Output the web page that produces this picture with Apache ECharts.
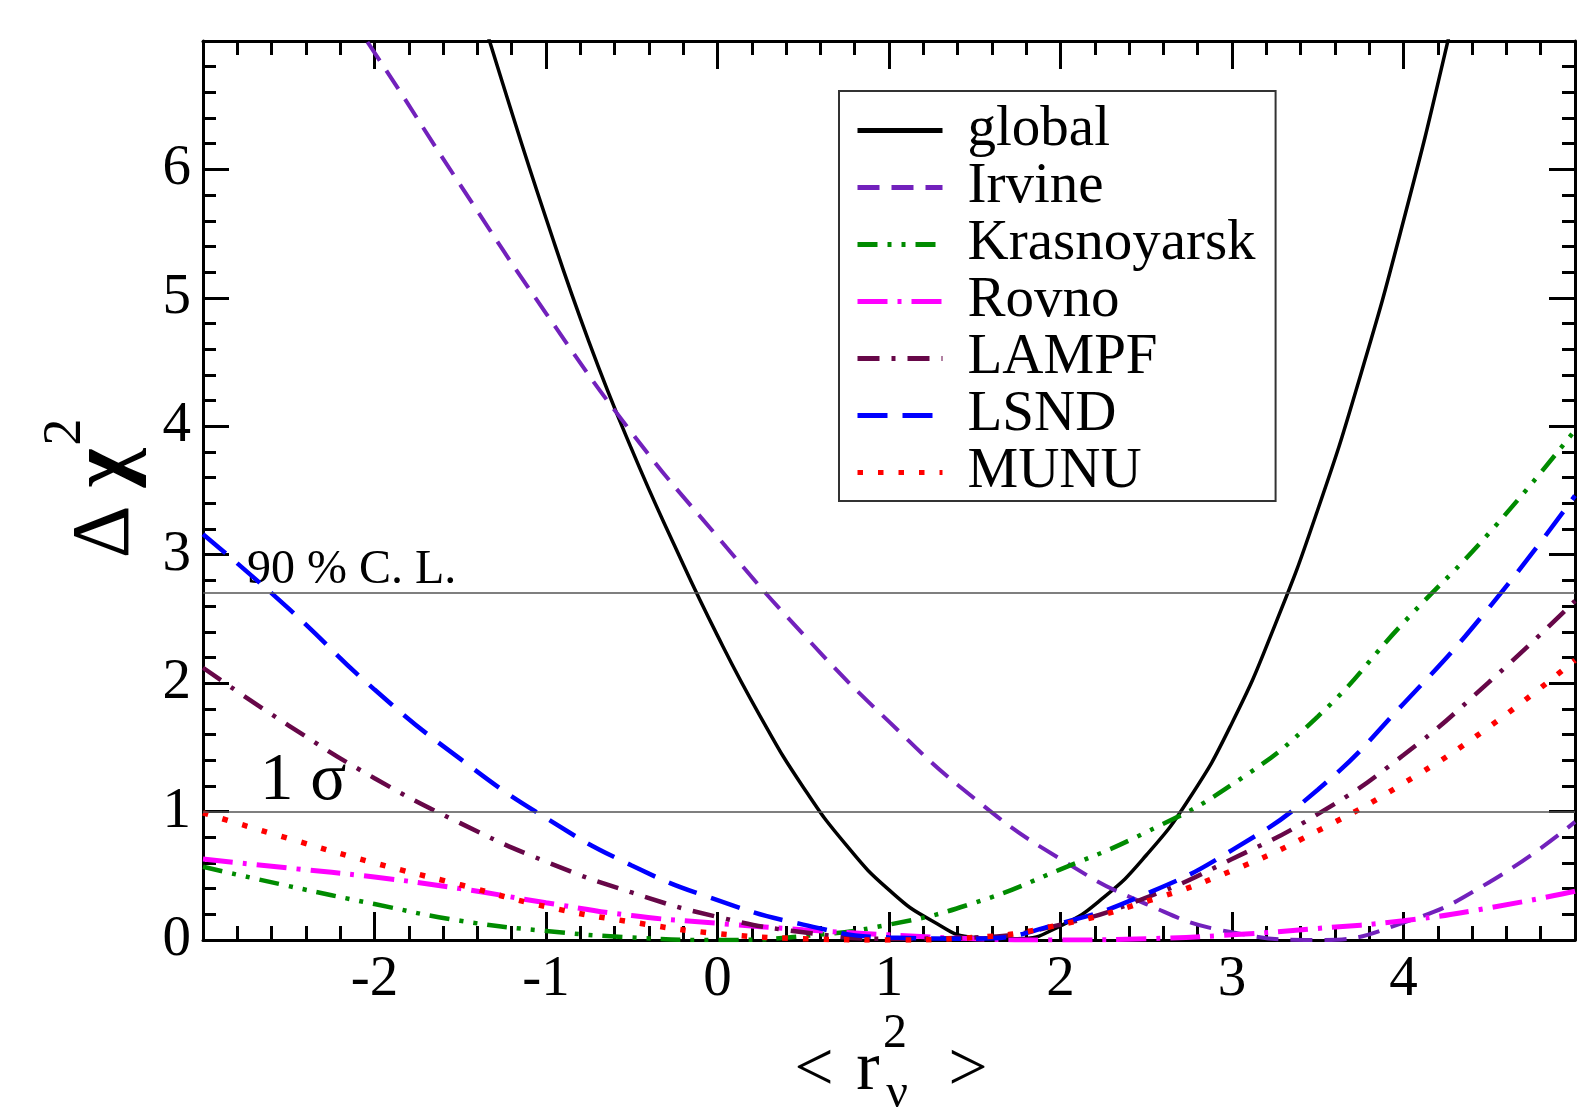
<!DOCTYPE html>
<html>
<head>
<meta charset="utf-8">
<script src="https://cdn.jsdelivr.net/npm/echarts@6/dist/echarts.min.js"></script>
<style>
  body { margin: 0; background: #fff; }
  #chart { width: 1578px; height: 1116px; }
</style>
</head>
<body>
<div id="chart"></div>
<script>
// x samples (<r^2>)
var xHalf = [-3, -2.5, -2, -1.5, -1, -0.5, 0, 0.5, 1, 1.5, 2, 2.5, 3, 3.5, 4, 4.5, 5];
var xQuarter = [-1.5, -1.25, -1, -0.75, -0.5, -0.25, 0, 0.25, 0.5, 0.75, 1, 1.25, 1.5,
  1.75, 2, 2.25, 2.5, 2.75, 3, 3.25, 3.5, 3.75, 4, 4.25, 4.5];

// delta chi^2
var globalChi = [7.75, 6.66, 5.62, 4.66, 3.82, 3.07, 2.37, 1.74, 1.19, 0.74, 0.39, 0.15, 0.02,
  0.01, 0.11, 0.33, 0.66, 1.10, 1.69, 2.45, 3.35, 4.40, 5.60, 6.95, 8.45];
var irvine = [9.0, 7.9, 6.91, 5.88, 4.88, 3.95, 3.14, 2.38, 1.70, 1.10, 0.63, 0.28, 0.06, 0.0, 0.135, 0.45, 0.92];
var krasnoyarsk = [0.57, 0.42, 0.28, 0.15, 0.07, 0.02, 0.0, 0.03, 0.12, 0.29, 0.55, 0.84, 1.21, 1.74, 2.47, 3.17, 3.97];
var rovno = [0.63, 0.56, 0.49, 0.40, 0.29, 0.19, 0.13, 0.08, 0.04, 0.01, 0.0, 0.01, 0.04, 0.09, 0.15, 0.25, 0.38];
var lampf = [2.12, 1.67, 1.26, 0.91, 0.61, 0.37, 0.18, 0.06, 0.01, 0.02, 0.12, 0.33, 0.63, 0.98, 1.44, 2.01, 2.64];
var lsnd = [3.16, 2.58, 1.95, 1.41, 0.95, 0.58, 0.31, 0.12, 0.02, 0.01, 0.13, 0.36, 0.70, 1.17, 1.84, 2.59, 3.46];
var munu = [0.99, 0.79, 0.60, 0.43, 0.26, 0.14, 0.05, 0.01, 0.0, 0.02, 0.12, 0.30, 0.54, 0.85, 1.22, 1.66, 2.18];

var refLevels = [1, 2.7];
var xTicks = [-2, -1, 0, 1, 2, 3, 4];
var yTicks = [0, 1, 2, 3, 4, 5, 6];

var serif = '"Liberation Serif", "DejaVu Serif", serif';

function pairs(xs, ys) {
  return xs.map(function (x, i) { return [x, ys[i]]; });
}

function curve(name, xs, ys, color, width, dash) {
  return {
    name: name,
    type: 'line',
    data: pairs(xs, ys),
    symbol: 'none',
    showSymbol: false,
    smooth: 0.5,
    clip: true,
    lineStyle: { color: color, width: width, type: dash },
    itemStyle: { color: color }
  };
}

function label(txt, x, y, size, extra) {
  var st = { text: txt, fontFamily: serif, fontSize: size, fill: '#000', align: 'center', verticalAlign: 'middle' };
  if (extra) Object.assign(st, extra);
  return { type: 'text', x: x, y: y, style: st, silent: true };
}

var chart = echarts.init(document.getElementById('chart'));

var axisCommon = {
  type: 'value',
  axisLine: { show: true, onZero: false, lineStyle: { color: '#000', width: 3 } },
  splitLine: { show: false },
  minorSplitLine: { show: false }
};

var series = [
  curve('global', xQuarter, globalChi, '#000000', 3.5, 'solid'),
  curve('Irvine', xHalf, irvine, '#7221bc', 4, [22, 12]),
  curve('Krasnoyarsk', xHalf, krasnoyarsk, '#008b00', 4.5, [20, 10, 4, 10, 4, 10]),
  curve('Rovno', xHalf, rovno, '#ff00ff', 5, [30, 10, 4, 10]),
  curve('LAMPF', xHalf, lampf, '#670748', 4.5, [22, 12, 4, 12]),
  curve('LSND', xHalf, lsnd, '#0000ff', 4.5, [30, 15]),
  curve('MUNU', xHalf, munu, '#ff0000', 5.5, [5.5, 15])
];

series[0].markLine = {
  silent: true,
  symbol: 'none',
  label: { show: false },
  lineStyle: { color: '#555', width: 1.5, type: 'solid' },
  data: refLevels.map(function (v) { return { yAxis: v }; })
};

var option = {
  animation: false,
  backgroundColor: '#fff',
  grid: { left: 203, top: 41, right: 1, bottom: 176 },
  xAxis: [
    Object.assign({}, axisCommon, {
      position: 'bottom', min: -3, max: 5, interval: 1,
      axisTick: { show: true, inside: true, length: 28, lineStyle: { color: '#000', width: 3 } },
      minorTick: { show: true, splitNumber: 5, length: 14, lineStyle: { color: '#000', width: 3 } },
      axisLabel: {
        margin: 12, fontFamily: serif, fontSize: 57, color: '#000',
        formatter: function (v) { return xTicks.indexOf(v) >= 0 ? String(v) : ''; }
      }
    }),
    Object.assign({}, axisCommon, {
      position: 'top', min: -3, max: 5, interval: 1,
      axisTick: { show: true, inside: true, length: 28, lineStyle: { color: '#000', width: 3 } },
      minorTick: { show: true, splitNumber: 5, length: 14, lineStyle: { color: '#000', width: 3 } },
      axisLabel: { show: false }
    })
  ],
  yAxis: [
    Object.assign({}, axisCommon, {
      position: 'left', min: 0, max: 7, interval: 1,
      axisTick: { show: true, inside: true, length: 26, lineStyle: { color: '#000', width: 3 } },
      minorTick: { show: true, splitNumber: 5, length: 13, lineStyle: { color: '#000', width: 3 } },
      axisLabel: {
        margin: 12, fontFamily: serif, fontSize: 57, color: '#000',
        formatter: function (v) { return yTicks.indexOf(v) >= 0 ? String(v) : ''; }
      }
    }),
    Object.assign({}, axisCommon, {
      position: 'right', min: 0, max: 7, interval: 1,
      axisTick: { show: true, inside: true, length: 26, lineStyle: { color: '#000', width: 3 } },
      minorTick: { show: true, splitNumber: 5, length: 13, lineStyle: { color: '#000', width: 3 } },
      axisLabel: { show: false }
    })
  ],
  legend: {
    left: 839,
    top: 91,
    orient: 'vertical',
    padding: [11, 20, 0, 16],
    itemGap: 0,
    itemWidth: 85,
    itemHeight: 14,
    borderColor: '#333',
    borderWidth: 2,
    borderRadius: 0,
    selectedMode: false,
    itemStyle: { opacity: 0, borderWidth: 0 },
    lineStyle: { width: 5 },
    textStyle: { fontFamily: serif, fontSize: 57, color: '#000', padding: [0, 0, 0, 20] },
    data: ['global', 'Irvine', 'Krasnoyarsk', 'Rovno', 'LAMPF', 'LSND', 'MUNU']
  },
  graphic: [
    label('90 % C. L.', 247, 570, 48, { align: 'left' }),
    label('1 σ', 260, 781, 67, { align: 'left' }),
    {
      type: 'group', x: 134, y: 490, rotation: Math.PI / 2,
      children: [
        label('Δ', -42, -28, 82),
        label('χ', 22, -28, 84, { fontWeight: 'bold' }),
        label('2', 58, -68, 54)
      ]
    },
    label('<', 814, 1072, 70),
    label('r', 868, 1071, 70),
    label('2', 895, 1034, 48),
    label('ν', 897, 1094, 48),
    label('>', 968, 1072, 70)
  ],
  series: series
};

chart.setOption(option);
</script>
</body>
</html>
